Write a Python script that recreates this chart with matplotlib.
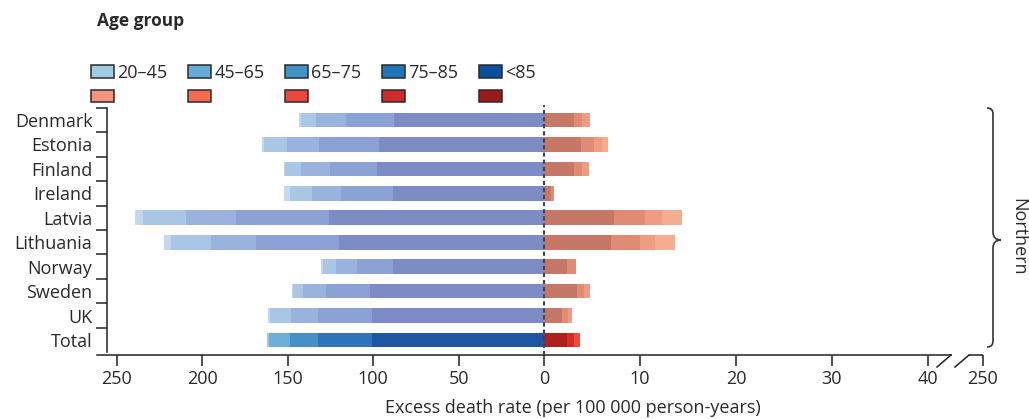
import numpy as np
import matplotlib
matplotlib.use("Agg")
import matplotlib.pyplot as plt
from matplotlib.patches import Patch, PathPatch
from matplotlib.path import Path

plt.rcParams["font.family"] = ["Open Sans", "DejaVu Sans"]

# ── Data ──────────────────────────────────────────────────────────────────────
countries = ["Denmark", "Estonia", "Finland", "Ireland", "Latvia",
             "Lithuania", "Norway", "Sweden", "UK", "Total"]
age_groups = ["20–45", "45–65", "65–75", "75–85", "<85"]

# left side (blue), per age group, one value per country
blue_20_45 = [1.0, 1.0, 1.0, 3.7, 4.5, 3.9, 1.0, 1.0, 1.0, 1.4]
blue_45_65 = [8.9, 13.6, 9.3, 12.7, 25.2, 23.5, 7.6, 5.4, 12.1, 12.3]
blue_65_75 = [17.4, 18.6, 17.0, 17.0, 29.5, 26.3, 12.7, 13.7, 16.2, 16.6]
blue_75_85 = [28.5, 35.1, 27.5, 30.8, 54.2, 48.6, 20.7, 25.7, 31.6, 31.2]
blue_85 = [87.6, 96.6, 97.6, 88.2, 126.1, 120.2, 88.6, 101.9, 100.5, 100.9]

# right side (red)
red_20_45 = [0, 0, 0, 0, 0, 0, 0, 0, 0, 0]
red_45_65 = [0, 0.7, 0, 0, 2.1, 2.0, 0, 0, 0, 0]
red_65_75 = [0.8, 0.8, 0.7, 0, 1.8, 1.6, 0, 0.6, 0.4, 0.7]
red_75_85 = [0.9, 1.3, 0.9, 0.3, 3.2, 3.0, 0.9, 0.8, 0.6, 0.7]
red_85 = [3.1, 3.9, 3.1, 0.7, 7.3, 7.0, 2.4, 3.4, 1.9, 2.4]

xtick_vals = [-250, -200, -150, -100, -50, 0, 10, 20, 30, 40, 250]
xtick_labels = ["250", "200", "150", "100", "50", "0", "10", "20", "30", "40", "250"]

# ── Colours ───────────────────────────────────────────────────────────────────
legend_blue = ["#a0cbe3", "#66acd8", "#4292c6", "#2074bb", "#0c4f9c"]
legend_red = ["#f6937a", "#f46b50", "#ea4a3b", "#d32a29", "#9a1b1b"]
country_blue = ["#c2d8ee", "#a9c6e6", "#99b3de", "#8ca2d5", "#7e8cc5"]
total_blue = ["#9ecae1", "#6baed6", "#4590c8", "#2d74bb", "#1f56a3"]
country_red = ["#f9c3aa", "#f5ad92", "#ee9c82", "#e08b74", "#c67866"]
total_red = ["#f99276", "#f56a50", "#ec4a3a", "#d22e2a", "#ae211c"]

# ── Broken x scale: compressed left, linear 0-40, break to 250 ───────────────
KL = 1.708 / 9.6
BRK = 5.73 / 210.0


def fwd(x):
    x = np.asarray(x, dtype=float)
    return np.where(x < 0, x * KL, np.where(x <= 40, x, 40 + (x - 40) * BRK))


def inv(u):
    u = np.asarray(u, dtype=float)
    return np.where(u < 0, u / KL, np.where(u <= 40, u, 40 + (u - 40) / BRK))


W, H = 1029, 419
fig = plt.figure(figsize=(W / 100, H / 100), dpi=100)
ax = fig.add_axes([97 / W, 1 - 355 / H, (983 - 97) / W, 250 / H])
ax.set_xscale("function", functions=(fwd, inv))

y = np.arange(len(countries))
is_total = np.array([c == "Total" for c in countries])

blue_series = [blue_85, blue_75_85, blue_65_75, blue_45_65, blue_20_45]
red_series = [red_85, red_75_85, red_65_75, red_45_65, red_20_45]

cum_b = np.zeros(len(countries))
cum_r = np.zeros(len(countries))
for k, (bs, rs) in enumerate(zip(blue_series, red_series)):
    ci = 4 - k  # colour index (oldest group is darkest)
    bs = np.array(bs)
    rs = np.array(rs)
    bcol = [total_blue[ci] if t else country_blue[ci] for t in is_total]
    rcol = [total_red[ci] if t else country_red[ci] for t in is_total]
    ax.barh(y, -bs, left=-cum_b, height=0.6, color=bcol, linewidth=0)
    ax.barh(y, rs, left=cum_r, height=0.6, color=rcol, linewidth=0)
    cum_b += bs
    cum_r += rs

ax.axvline(0, color="#3f4354", lw=1.5, ls=(0, (2.0, 1.4)), zorder=5)

x_left = inv((97 - 544) / 9.6)
ax.set_xlim(float(x_left), 250)
ax.set_ylim(9.615, -0.614)

# x axis
ax.set_xticks(xtick_vals)
ax.set_xticklabels(xtick_labels)
ax.tick_params(axis="x", length=8, width=1.1, pad=3, labelsize=13,
               color="#222222", labelcolor="#2a2a2a")
ax.xaxis.set_minor_locator(matplotlib.ticker.NullLocator())
brk1 = float(inv((951 - 544) / 9.6))
brk2 = float(inv((969 - 544) / 9.6))
ax.spines["bottom"].set_bounds(float(x_left), brk1)
ax.spines["bottom"].set_linewidth(1.1)
ax.spines["bottom"].set_color("#222222")
xt = ax.get_xaxis_transform()
ax.plot([brk2, 250], [0, 0], transform=xt, color="#222222", lw=1.1,
        clip_on=False, solid_capstyle="butt")
for a, b in [((937 - 544) / 9.6, (951 - 544) / 9.6),
             ((955 - 544) / 9.6, (969 - 544) / 9.6)]:
    ax.plot([float(inv(a)), float(inv(b))], [-0.048, 0.0], transform=xt,
            color="#222222", lw=1.1, clip_on=False)

ax.set_xlabel("Excess death rate (per 100 000 person-years)", fontsize=13,
              color="#2a2a2a")
ax.xaxis.set_label_coords((573 - 97) / 886, -0.177)

# y axis
ax.spines["left"].set_position(("data", float(inv((107 - 544) / 9.6))))
ax.spines["left"].set_bounds(-0.5, 9.5)
ax.spines["left"].set_linewidth(1.1)
ax.spines["left"].set_color("#222222")
ax.set_yticks(y)
ax.set_yticklabels(countries)
ax.set_yticks(np.arange(-0.5, 9, 1), minor=True)
ax.tick_params(axis="y", which="major", length=0, pad=10.5, labelsize=13,
               labelcolor="#2a2a2a")
ax.tick_params(axis="y", which="minor", length=8, width=1.1, color="#222222")

for s in ["top", "right"]:
    ax.spines[s].set_visible(False)

# ── Legend ────────────────────────────────────────────────────────────────────
handles, labels = [], []
for i, g in enumerate(age_groups):
    handles.append(Patch(facecolor=legend_blue[i], edgecolor="#2a2a2a", lw=1.1))
    labels.append(g)
    handles.append(Patch(facecolor=legend_red[i], edgecolor="#2a2a2a", lw=1.1))
    labels.append("")
fig.legend(handles, labels, ncol=5, loc="upper left",
           bbox_to_anchor=(91 / W, 1 - 64 / H), frameon=False, fontsize=13,
           handlelength=1.28, handleheight=0.72, handletextpad=0.17,
           columnspacing=1.15, labelspacing=0.35, borderpad=0,
           borderaxespad=0, labelcolor="#2a2a2a")
fig.text(97 / W, 1 - 21 / H, "Age group", fontsize=12.5, fontweight="bold",
         color="#2a2a2a", va="center", ha="left")

# ── Brace + region label ──────────────────────────────────────────────────────
pts = [(987, 108), (993, 108), (993, 114), (993, 232), (993, 240), (1001, 240),
       (993, 240), (993, 248), (993, 341), (993, 347), (987, 347)]
codes = [Path.MOVETO, Path.CURVE3, Path.CURVE3, Path.LINETO, Path.CURVE3,
         Path.CURVE3, Path.CURVE3, Path.CURVE3, Path.LINETO, Path.CURVE3,
         Path.CURVE3]
verts = [(px / W, 1 - py / H) for px, py in pts]
fig.add_artist(PathPatch(Path(verts, codes), transform=fig.transFigure,
                         fill=False, edgecolor="#333333", lw=1.2))
fig.text(1018 / W, 1 - 237 / H, "Northern", rotation=270, fontsize=13,
         color="#2a2a2a", ha="center", va="center")

fig.savefig("out.png", dpi=100)
